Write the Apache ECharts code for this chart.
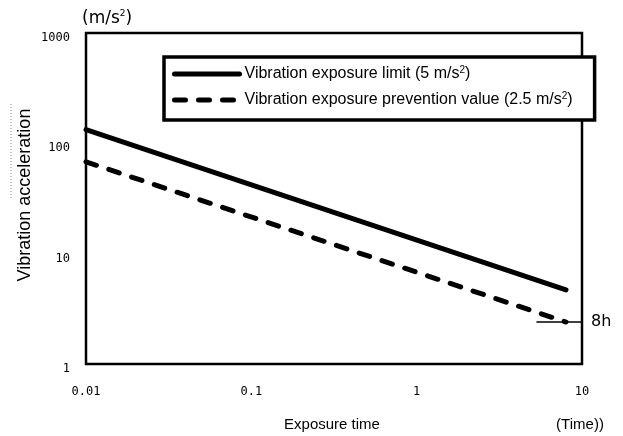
<!DOCTYPE html>
<html><head><meta charset="utf-8">
<script src="https://cdn.jsdelivr.net/npm/echarts@6/dist/echarts.min.js"></script>
<style>html,body{margin:0;padding:0;background:#fff}#c{width:623px;height:436px}</style>
</head><body><div id="c"></div>
<script>
const seriesNames = ['Vibration exposure limit (5 m/s2)', 'Vibration exposure prevention value (2.5 m/s2)'];
const exposureTime = [0.01, 8];
const limitValues = [133, 4.7];
const preventionValues = [68, 2.4];
const xTickLabels = {0.01: '0.01', 0.1: '0.1', 1: '1', 10: '10'};
const yTickLabels = {1: '1', 10: '10', 100: '100', 1000: '1000'};
const eightHourLine = [[5.3, 2.4], [10, 2.4]];

const chart = echarts.init(document.getElementById('c'), null, {renderer: 'canvas'});
const tickFont = '"DejaVu Sans Mono", monospace';
const arial = '"Liberation Sans", Arial, sans-serif';
chart.setOption({
  animation: false,
  grid: {left: 86, right: 41, top: 33, bottom: 72, show: true, borderColor: '#000', borderWidth: 2.5, backgroundColor: 'transparent'},
  xAxis: {
    type: 'log', logBase: 10, min: 0.01, max: 10,
    axisLine: {show: false}, axisTick: {show: false}, splitLine: {show: false}, minorTick: {show: false},
    axisLabel: {margin: 22, color: '#000', fontSize: 12, fontFamily: tickFont, formatter: v => xTickLabels[+v.toPrecision(3)] || ''}
  },
  yAxis: {
    type: 'log', logBase: 10, min: 1, max: 1000,
    axisLine: {show: false}, axisTick: {show: false}, splitLine: {show: false},
    axisLabel: {margin: 16, verticalAlign: 'top', lineHeight: 10, color: '#000', fontSize: 12, fontFamily: tickFont, formatter: v => yTickLabels[+v.toPrecision(3)] || ''}
  },
  legend: {
    orient: 'vertical', left: 164, top: 57,
    padding: [8, 22, 12, 8], itemGap: 9, itemWidth: 65, itemHeight: 14,
    borderColor: '#000', borderWidth: 3.5, backgroundColor: '#fff',
    itemStyle: {color: 'rgba(0,0,0,0)', borderWidth: 0, borderColor: 'rgba(0,0,0,0)'},
    lineStyle: {width: 5, type: 'inherit', cap: 'round'},
    textStyle: {fontFamily: arial, fontSize: 16, color: '#000',
      rich: {t: {fontFamily: arial, fontSize: 16, color: '#000'},
             s: {fontFamily: arial, fontSize: 10, color: '#000', verticalAlign: 'top', padding: [0, 0, 8, 0]}}},
    formatter: n => n === seriesNames[0]
      ? '{t|Vibration exposure limit (5 m/s}{s|2}{t|)}'
      : '{t|Vibration exposure prevention value (2.5 m/s}{s|2}{t|)}',
    data: seriesNames
  },
  series: [
    {name: seriesNames[0], type: 'line', symbol: 'none', data: exposureTime.map((t, i) => [t, limitValues[i]]),
      lineStyle: {color: '#000', width: 5, cap: 'round'}, itemStyle: {color: '#000'}},
    {name: seriesNames[1], type: 'line', symbol: 'none', data: exposureTime.map((t, i) => [t, preventionValues[i]]),
      lineStyle: {color: '#000', width: 5, type: [11, 13], cap: 'round'}, itemStyle: {color: '#000'},
      markLine: {silent: true, symbol: 'none', animation: false,
        lineStyle: {color: '#000', width: 1.5, type: 'solid'},
        label: {show: true, position: 'end', formatter: '8h', distance: 9, color: '#000', fontSize: 16, fontFamily: '"DejaVu Sans", sans-serif'},
        data: [[{coord: eightHourLine[0]}, {coord: eightHourLine[1]}]]}}
  ],
  graphic: [
    {type: 'text', left: 82, top: 9, style: {text: '(m/s{s|2})', fontSize: 17, fontFamily: '"DejaVu Sans", sans-serif', fill: '#000',
      rich: {s: {fontSize: 9, verticalAlign: 'top', padding: [0, 0, 10, 0], fontFamily: '"DejaVu Sans", sans-serif'}}}},
    {type: 'text', x: 25, y: 195, rotation: Math.PI / 2, style: {text: 'Vibration acceleration', fontSize: 18, fontFamily: arial, fill: '#000', align: 'center', verticalAlign: 'middle'}},
    {type: 'line', shape: {x1: 11, y1: 104, x2: 11, y2: 198}, style: {stroke: '#888', lineWidth: 1, lineDash: [1, 2]}},
    {type: 'text', x: 332, y: 425, style: {text: 'Exposure time', fontSize: 15, fontFamily: arial, fill: '#000', align: 'center', verticalAlign: 'middle'}},
    {type: 'text', x: 580, y: 425, style: {text: '(Time))', fontSize: 15, fontFamily: arial, fill: '#000', align: 'center', verticalAlign: 'middle'}}
  ]
});
</script></body></html>
